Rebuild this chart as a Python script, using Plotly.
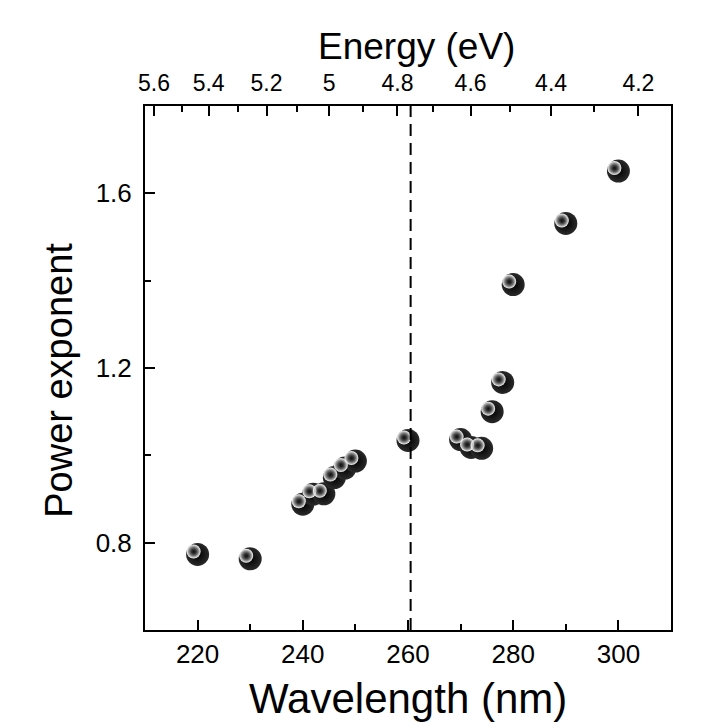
import plotly.graph_objects as go

# Data
wavelength_nm = [220, 230, 240, 242, 244, 246, 248, 250, 260, 270, 272, 274, 276, 278, 280, 290, 300]
power_exponent = [0.773, 0.763, 0.888, 0.911, 0.912, 0.949, 0.971, 0.987, 1.034,
                  1.036, 1.018, 1.016, 1.100, 1.167, 1.391, 1.531, 1.651]

# Top (energy) axis tick labels and their positions on the wavelength scale
energy_labels = ["5.6", "5.4", "5.2", "5", "4.8", "4.6", "4.4", "4.2"]
energy_tick_pos = [211.7, 222.1, 233.1, 245.0, 258.0, 271.9, 287.2, 303.8]
energy_minor_pos = [217.1, 227.6, 238.9, 251.4, 264.8, 279.3, 295.4]

dashed_line_nm = 260.5

X_RANGE = [210, 310]
Y_RANGE = [0.6, 1.8]

W, H = 725, 726
ML, MT = 137, 98
PW, PH = 526, 524
MR = W - ML - PW
MB = H - MT - PH
px_per_x = PW / (X_RANGE[1] - X_RANGE[0])
px_per_y = PH / (Y_RANGE[1] - Y_RANGE[0])
dx = 4 / px_per_x   # highlight offset (left)
dy = 3 / px_per_y   # highlight offset (up)

FONT = "Liberation Sans, Arial, sans-serif"

fig = go.Figure()
fig.add_trace(go.Scatter(
    x=wavelength_nm, y=power_exponent, mode="markers",
    marker=dict(size=23, color="#2a2a2a",
                gradient=dict(type="radial", color="#000000"),
                line=dict(width=0)),
    showlegend=False, hoverinfo="x+y"))
fig.add_trace(go.Scatter(
    x=wavelength_nm, y=power_exponent, mode="markers", xaxis="x3", yaxis="y3",
    marker=dict(size=14, color="#ffffff",
                gradient=dict(type="radial", color="rgba(70,70,70,0)"),
                line=dict(width=0)),
    showlegend=False, hoverinfo="skip"))

fig.add_shape(type="line", xref="x", yref="paper", x0=dashed_line_nm, x1=dashed_line_nm,
              y0=0, y1=1, line=dict(color="black", width=2, dash="12px,7px"))

tick_common = dict(ticks="inside", ticklen=10, tickwidth=2, tickcolor="black",
                   showline=True, linecolor="black", linewidth=2,
                   showgrid=False, zeroline=False)
minor_common = dict(ticks="inside", ticklen=6, tickwidth=2, tickcolor="black")

fig.update_layout(
    width=W, height=H,
    margin=dict(l=ML, r=MR, t=MT, b=MB),
    plot_bgcolor="white", paper_bgcolor="white",
    font=dict(family=FONT, color="black"),
    xaxis=dict(range=X_RANGE, tickvals=[220, 240, 260, 280, 300],
               minor=dict(tickvals=[230, 250, 270, 290], **minor_common),
               mirror=False, tickfont=dict(size=26), **tick_common),
    xaxis2=dict(range=X_RANGE, overlaying="x", side="top", anchor="y",
                tickmode="array", tickvals=energy_tick_pos, ticktext=energy_labels,
                minor=dict(tickvals=energy_minor_pos, **minor_common),
                tickfont=dict(size=23), ticklabelstandoff=4, **tick_common),
    yaxis=dict(range=Y_RANGE, tickvals=[0.8, 1.2, 1.6],
               minor=dict(tickvals=[1.0, 1.4], **minor_common),
               mirror=True, tickfont=dict(size=26), ticklabelstandoff=6, **tick_common),
    xaxis3=dict(range=[X_RANGE[0] + dx, X_RANGE[1] + dx], overlaying="x",
                visible=False, anchor="y3"),
    yaxis3=dict(range=[Y_RANGE[0] - dy, Y_RANGE[1] - dy], overlaying="y",
                visible=False, anchor="x3"),
)

fig.add_annotation(text="Wavelength (nm)", xref="paper", yref="paper", x=0.5, y=-0.131,
                   xanchor="center", yanchor="middle", showarrow=False,
                   font=dict(size=42, family=FONT, color="black"))
fig.add_annotation(text="Energy (eV)", xref="paper", yref="paper", x=0.516, y=1.114,
                   xanchor="center", yanchor="middle", showarrow=False,
                   font=dict(size=37, family=FONT, color="black"))
fig.add_annotation(text="Power exponent", xref="paper", yref="paper", x=-0.165, y=0.476,
                   xanchor="center", yanchor="middle", showarrow=False, textangle=-90,
                   font=dict(size=38, family=FONT, color="black"))

# invisible trace to activate the top axis
fig.add_trace(go.Scatter(x=[X_RANGE[0]], y=[Y_RANGE[0]], xaxis="x2", mode="markers",
                         marker=dict(opacity=0), showlegend=False, hoverinfo="skip"))

fig.write_html("out.html")
